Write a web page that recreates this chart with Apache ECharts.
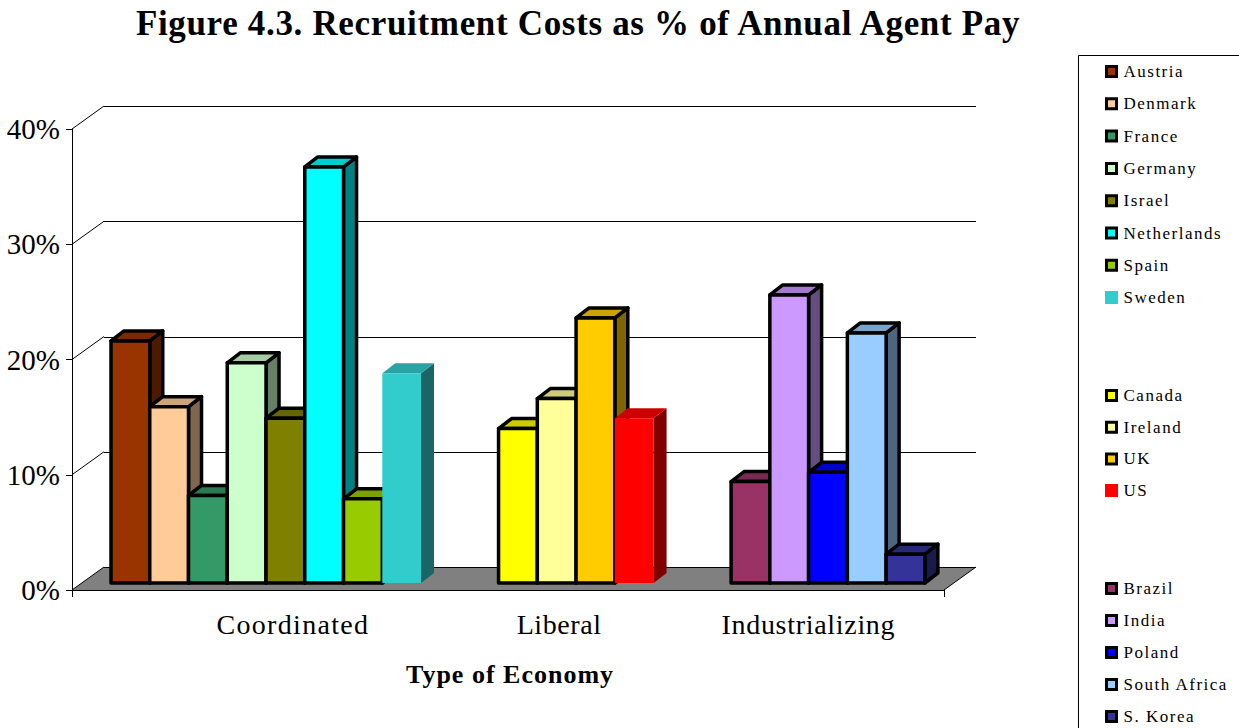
<!DOCTYPE html>
<html><head><meta charset="utf-8">
<style>html,body{margin:0;padding:0;background:#fff;overflow:hidden}#c{width:1239px;height:728px}</style>
<script src="https://cdn.jsdelivr.net/npm/echarts@6/dist/echarts.min.js"></script>
</head><body><div id="c"></div>
<script>
const titleText = 'Figure 4.3. Recruitment Costs as % of Annual Agent Pay';
const axisTitle = 'Type of Economy';
const yTicks = [0, 10, 20, 30, 40];
const groupNames = ['Coordinated', 'Liberal', 'Industrializing'];
const groupLabelSlots = [4.9, 11.77, 18.2];
const coordinatedNames = ['Austria','Denmark','France','Germany','Israel','Netherlands','Spain','Sweden'];
const coordinatedValues = [21.0, 15.3, 7.6, 19.1, 14.3, 36.1, 7.3, 18.2];
const coordinatedColors = ['#993300','#FFCC99','#339966','#CCFFCC','#808000','#00FFFF','#99CC00','#33CCCC'];
const liberalNames = ['Canada','Ireland','UK','US'];
const liberalValues = [13.4, 16.0, 23.0, 14.3];
const liberalColors = ['#FFFF00','#FFFF99','#FFCC00','#FF0000'];
const industrialNames = ['Brazil','India','Poland','South Africa','S. Korea'];
const industrialValues = [8.8, 25.0, 9.6, 21.7, 2.5];
const industrialColors = ['#993366','#CC99FF','#0000FF','#99CCFF','#333399'];
const unoutlined = ['Sweden','US'];
const groupStartSlots = [0, 10, 16];

const DEPTH_X = 32, DEPTH_Y = 23;   // wall depth of the 3D frame
const BAR_DX = 8, BAR_DY = 7;       // bar plane inside the depth
const BAR_DEPTH_X = 13, BAR_DEPTH_Y = 10;
const FONT = '"Liberation Serif","Times New Roman",serif';

function shade(hex, k) {
  const n = parseInt(hex.slice(1), 16);
  return 'rgb(' + [(n >> 16) & 255, (n >> 8) & 255, n & 255].map(v => Math.round(v * k)).join(',') + ')';
}
function barRender(color, outlined) {
  return function (params, api) {
    const slot = api.value(0), val = api.value(1);
    const p0 = api.coord([slot, 0]), p1 = api.coord([slot + 1, val]);
    const x0 = p0[0] + BAR_DX, x1 = p1[0] + BAR_DX, yb = p0[1] - BAR_DY, yt = p1[1] - BAR_DY;
    const dx = BAR_DEPTH_X, dy = BAR_DEPTH_Y;
    const line = outlined ? { stroke: '#000', lineWidth: 3.5, lineJoin: 'round' } : { stroke: null, lineWidth: 0 };
    return { type: 'group', children: [
      { type: 'polygon', shape: { points: [[x1, yt], [x1 + dx, yt - dy], [x1 + dx, yb - dy], [x1, yb]] }, style: Object.assign({ fill: shade(color, 0.5) }, line) },
      { type: 'polygon', shape: { points: [[x0, yt], [x0 + dx, yt - dy], [x1 + dx, yt - dy], [x1, yt]] }, style: Object.assign({ fill: shade(color, 0.8) }, line) },
      { type: 'rect', shape: { x: x0, y: yt, width: x1 - x0, height: yb - yt }, style: Object.assign({ fill: color }, line) }
    ] };
  };
}
function frameRender(params, api) {
  const v = api.value(0);
  const a = api.coord([-0.8, v]), b = api.coord([21.7, v]);
  const children = [];
  if (v === 0) {
    children.push({ type: 'polygon', shape: { points: [a, [a[0] + DEPTH_X, a[1] - DEPTH_Y], [b[0] + DEPTH_X, b[1] - DEPTH_Y], b] }, style: { fill: '#808080', stroke: null } });
  }
  const ls = { stroke: '#000', lineWidth: 1, fill: null };
  children.push({ type: 'line', shape: { x1: a[0], y1: a[1], x2: a[0] + DEPTH_X, y2: a[1] - DEPTH_Y }, style: ls });
  children.push({ type: 'line', shape: { x1: a[0] + DEPTH_X, y1: Math.round(a[1] - DEPTH_Y) + 0.5, x2: b[0] + DEPTH_X, y2: Math.round(a[1] - DEPTH_Y) + 0.5 }, style: ls });
  if (v === 0) children.push({ type: 'line', shape: { x1: b[0], y1: b[1], x2: b[0] + DEPTH_X, y2: b[1] - DEPTH_Y }, style: { stroke: '#000', lineWidth: 1, fill: null } });
  return { type: 'group', children };
}

const groups = [
  [coordinatedNames, coordinatedValues, coordinatedColors],
  [liberalNames, liberalValues, liberalColors],
  [industrialNames, industrialValues, industrialColors]
];
const series = [{
  type: 'custom', name: 'frame', renderItem: frameRender, data: yTicks.map(v => [v]),
  encode: { y: 0 }, clip: false, silent: true, z: 1
}];
groups.forEach((g, gi) => g[0].forEach((name, i) => {
  const outlined = unoutlined.indexOf(name) < 0;
  series.push({
    type: 'custom', name, renderItem: barRender(g[2][i], outlined),
    data: [[groupStartSlots[gi] + i, g[1][i]]], encode: { x: 0, y: 1 },
    itemStyle: { color: g[2][i] }, clip: false, silent: true, z: 3
  });
}));
function legendFor(gi, top, gap) {
  return {
    left: 1105, top, orient: 'vertical', itemWidth: 10, itemHeight: 10, itemGap: gap,
    selectedMode: false, padding: 0,
    textStyle: { fontFamily: FONT, fontSize: 17, color: '#000', padding: [0, 0, 0, 2] },
    data: groups[gi][0].map((name, i) => ({
      name, icon: 'rect',
      itemStyle: { color: groups[gi][2][i], borderColor: unoutlined.indexOf(name) < 0 ? '#000' : groups[gi][2][i], borderWidth: 3 }
    }))
  };
}
const chart = echarts.init(document.getElementById('c'), null, { renderer: 'svg', width: 1239, height: 728 });
const spacing = { 17: 1.5, 26: 1.0, 35: 0.67 };
const labelSpacing = { Coordinated: 1.3, Liberal: 0.6, Industrializing: 0.7 };
function applySpacing() {
  document.querySelectorAll('#c svg text').forEach(t => {
    const s = Math.round(parseFloat(getComputedStyle(t).fontSize));
    const v = labelSpacing[t.textContent] !== undefined ? labelSpacing[t.textContent] : (spacing[s] || 0);
    t.style.letterSpacing = v + 'px';
  });
}
chart.on('finished', applySpacing);
chart.setOption({
  animation: false,
  backgroundColor: '#fff',
  title: {
    text: titleText, left: 573, top: 1, textAlign: 'center',
    textStyle: { fontFamily: FONT, fontSize: 35, fontWeight: 'bold', color: '#000' }
  },
  legend: [legendFor(0, 63, 15.3), legendFor(1, 387, 14.7), legendFor(2, 580, 15)],
  grid: { left: 72, right: 295, top: 129, bottom: 138, containLabel: false },
  xAxis: {
    type: 'value', min: -0.8, max: 21.7,
    name: axisTitle, nameLocation: 'middle', nameGap: 71,
    nameTextStyle: { fontFamily: FONT, fontSize: 26, fontWeight: 'bold', color: '#000', padding: [0, 0, 0, 4] },
    axisLine: { show: true, lineStyle: { color: '#000', width: 1 } },
    axisTick: { show: true, length: 7, lineStyle: { color: '#000' }, customValues: [-0.8, 21.7] },
    axisLabel: {
      customValues: groupLabelSlots, margin: 20, hideOverlap: false,
      fontFamily: FONT, fontSize: 28, color: '#000',
      formatter: v => groupNames[groupLabelSlots.indexOf(v)]
    },
    splitLine: { show: false }
  },
  yAxis: {
    type: 'value', min: 0, max: 40, interval: 10,
    axisLine: { show: true, onZero: false, lineStyle: { color: '#000', width: 1 } },
    axisTick: { show: true, length: 6, lineStyle: { color: '#000' } },
    axisLabel: { margin: 12, fontFamily: FONT, fontSize: 29, color: '#000', formatter: '{value}%' },
    splitLine: { show: false }
  },
  graphic: [{
    type: 'rect', silent: true, z: 0,
    shape: { x: 1078.5, y: 55.5, width: 400, height: 900 },
    style: { fill: '#fff', stroke: '#000', lineWidth: 1 }
  }],
  series
});
setTimeout(applySpacing, 50);
</script></body></html>
